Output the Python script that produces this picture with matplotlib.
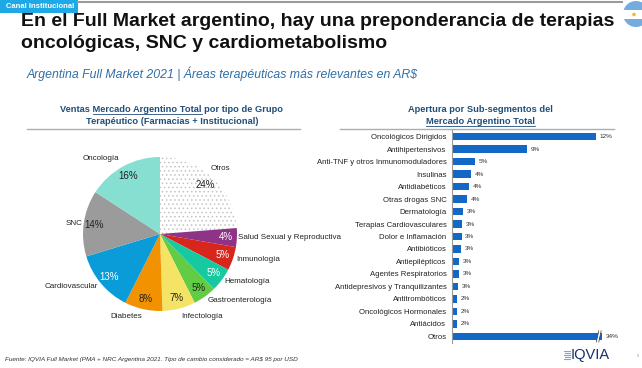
import numpy as np
import matplotlib.pyplot as plt
from matplotlib.patches import Rectangle, Circle

plt.rcParams['font.family'] = ['Liberation Sans', 'DejaVu Sans']

# datos del gráfico de torta (ventas por grupo terapéutico, %)
pie_labels = ["Otros", "Salud Sexual y Reproductiva", "Inmunología", "Hematología",
              "Gastroenterología", "Infectología", "Diabetes", "Cardiovascular",
              "SNC", "Oncología"]
pie_values = [24, 4, 5, 5, 5, 7, 8, 13, 14, 16]
pie_colors = ["white", "#8E3386", "#D9261C", "#16C9A0", "#62CC45", "#F5E366",
              "#F39200", "#0A9CD9", "#9B9B9B", "#86DFD1"]
pct_colors = ["#222", "white", "white", "white", "#222", "#222", "#222",
              "white", "#222", "#222"]
lab_dist = [1.15, 1.02, 1.04, 1.04, 1.07, 1.10, 1.10, 1.06, 1.02, 1.12]
lab_ha = ["center", "left", "left", "left", "left", "left", "right", "right",
          "right", "right"]

# datos del gráfico de barras (sub-segmentos)
bar_cats = ["Oncológicos Dirigidos", "Antihipertensivos", "Anti-TNF y otros Inmunomoduladores",
            "Insulinas", "Antidiabéticos", "Otras drogas SNC", "Dermatología",
            "Terapias Cardiovasculares", "Dolor e Inflamación", "Antibióticos",
            "Antiepilépticos", "Agentes Respiratorios", "Antidepresivos y Tranquilizantes",
            "Antitrombóticos", "Oncológicos Hormonales", "Antiácidos", "Otros"]
bar_len = [12.0, 6.25, 1.9, 1.6, 1.4, 1.25, 0.9, 0.85, 0.8, 0.75, 0.6, 0.6,
           0.5, 0.45, 0.45, 0.4, 12.5]
bar_txt = ["12%", "9%", "5%", "4%", "4%", "4%", "3%", "3%", "3%", "3%", "3%",
           "3%", "3%", "2%", "2%", "2%", "34%"]

W, H = 642, 368
fig = plt.figure(figsize=(W / 100, H / 100), dpi=100)

# capa de fondo en pixeles para títulos y decoraciones
ov = fig.add_axes([0, 0, 1, 1])
ov.set_xlim(0, W)
ov.set_ylim(H, 0)
ov.axis("off")

ov.add_patch(Rectangle((0, 0), 78, 13, color="#1CA9E6", lw=0))
ov.text(6, 6.5, "Canal Institucional", color="white", fontsize=5.5, fontweight="bold",
        va="center", ha="left")
ov.plot([78, 622], [1.5, 1.5], color="#9A9A9A", lw=1.5)

ov.text(21, 22, "En el Full Market argentino, hay una preponderancia de terapias",
        fontsize=14, fontweight="bold", color="#111111", va="center")
ov.text(21, 44, "oncológicas, SNC y cardiometabolismo",
        fontsize=14, fontweight="bold", color="#111111", va="center")
ov.text(27, 74, "Argentina Full Market 2021 | Áreas terapéuticas más relevantes en AR$",
        fontsize=8.8, style="italic", color="#2F6EA8", va="center")

# bandera
ov.add_patch(Circle((636, 14), 13, color="#74ACDF", lw=0))
ov.add_patch(Rectangle((622, 10), 28, 9, color="white", lw=0))
ov.add_patch(Circle((634, 14.5), 1.8, color="#F2B631", lw=0))

tcol = "#1F4E79"
tfs = 6.7
ov.text(172, 109, "Ventas Mercado Argentino Total por tipo de Grupo", fontsize=tfs,
        fontweight="bold", color=tcol, ha="center", va="center")
ov.text(172, 121, "Terapéutico (Farmacias + Institucional)", fontsize=tfs,
        fontweight="bold", color=tcol, ha="center", va="center")
ov.text(480, 110, "Apertura por Sub-segmentos del", fontsize=tfs,
        fontweight="bold", color=tcol, ha="center", va="center")
t2 = ov.text(480, 121, "Mercado Argentino Total", fontsize=tfs,
             fontweight="bold", color=tcol, ha="center", va="center")
ov.plot([27, 300], [128.5, 128.5], color="#A7AEB5", lw=1)
ov.plot([340, 614], [128.5, 128.5], color="#A7AEB5", lw=1)

ov.text(5, 359, "Fuente: IQVIA Full Market (PMA + NRC Argentina 2021. Tipo de cambio "
        "considerado = AR$ 95 por USD", fontsize=4.6, style="italic", color="#333",
        va="center")
for k in range(5):
    ov.plot([564 + (k % 2), 570], [350.5 + 2 * k, 350.5 + 2 * k], color="#7FA7D6", lw=0.8)
ov.text(571, 355, "IQVIA", fontsize=10.5, color="#15306B", va="center")
ov.text(637, 356, "6", fontsize=3, color="#999", va="center")

# subrayado de "Mercado Argentino Total"
fig.canvas.draw()
r = fig.canvas.get_renderer()
tmp = ov.text(0, 0, "Ventas M", fontsize=tfs, fontweight="bold")
tm = ov.text(0, 0, "M", fontsize=tfs, fontweight="bold")
tmid = ov.text(0, 0, "Mercado Argentino Total", fontsize=tfs, fontweight="bold")
full = ov.text(0, 0, "Ventas Mercado Argentino Total por tipo de Grupo", fontsize=tfs,
               fontweight="bold")
wpre = tmp.get_window_extent(r).width - tm.get_window_extent(r).width
wmid = tmid.get_window_extent(r).width
wfull = full.get_window_extent(r).width
for t in (tmp, tm, tmid, full):
    t.remove()
x0 = 172 - wfull / 2 + wpre
ov.plot([x0, x0 + wmid], [114, 114], color=tcol, lw=0.6)
bb = t2.get_window_extent(r)
ov.plot([480 - bb.width / 2, 480 + bb.width / 2], [126, 126], color=tcol, lw=0.6)

# gráfico de torta
cx, cy, rad = 160, 234, 77
axp = fig.add_axes([(cx - rad) / W, (H - cy - rad) / H, 2 * rad / W, 2 * rad / H])
plt.rcParams['hatch.color'] = "#C4C4C4"
plt.rcParams['hatch.linewidth'] = 0.6
wedges, _ = axp.pie(pie_values, colors=pie_colors, startangle=90, counterclock=False,
                    wedgeprops=dict(linewidth=0))
wedges[0].set_hatch("....")
wedges[0].set_edgecolor("#C4C4C4")
wedges[0].set_linewidth(0)
for i, w in enumerate(wedges):
    ang = np.deg2rad((w.theta1 + w.theta2) / 2)
    ca, sa = np.cos(ang), np.sin(ang)
    axp.text(0.86 * ca, 0.86 * sa, f"{pie_values[i]}%", fontsize=7, color=pct_colors[i],
             ha="center", va="center")
    axp.text(lab_dist[i] * ca, lab_dist[i] * sa, pie_labels[i], fontsize=5.8,
             color="#222", ha=lab_ha[i], va="center")
axp.set_xlim(-1, 1)
axp.set_ylim(-1, 1)
axp.set_aspect("auto")
axp.axis("off")

# gráfico de barras
step = 199 / 15
top = 137 - step / 2
bot = 336 + step / 2
axb = fig.add_axes([452 / W, (H - bot) / H, 180 / W, (bot - top) / H])
axb.patch.set_alpha(0)
y = np.arange(len(bar_cats))
axb.barh(y, bar_len, height=0.58, color="#1268C4")
axb.set_ylim(len(bar_cats) - 0.5, -0.5)
axb.set_xlim(0, 15)
axb.set_yticks(y)
axb.set_yticklabels(bar_cats, fontsize=5.6, color="#222")
axb.tick_params(axis="y", length=0, pad=4)
axb.set_xticks([])
for s in ("top", "right", "bottom"):
    axb.spines[s].set_visible(False)
axb.spines["left"].set_color("#9A9A9A")
axb.spines["left"].set_linewidth(0.8)
for i, (v, t) in enumerate(zip(bar_len, bar_txt)):
    axb.text(v + 0.3, i, t, fontsize=4.6, color="#333", va="center", ha="left")
# corte en la barra "Otros"
n = len(bar_cats) - 1
bx = bar_len[n] - 0.35
axb.fill([bx - 0.12, bx + 0.08, bx + 0.28, bx + 0.08], [n + 0.4, n + 0.4, n - 0.4, n - 0.4],
         color="white", lw=0)
axb.plot([bx - 0.12, bx + 0.08], [n + 0.45, n - 0.45], color="#333", lw=0.5)
axb.plot([bx + 0.08, bx + 0.28], [n + 0.45, n - 0.45], color="#333", lw=0.5)

fig.savefig("out.png", dpi=100)
